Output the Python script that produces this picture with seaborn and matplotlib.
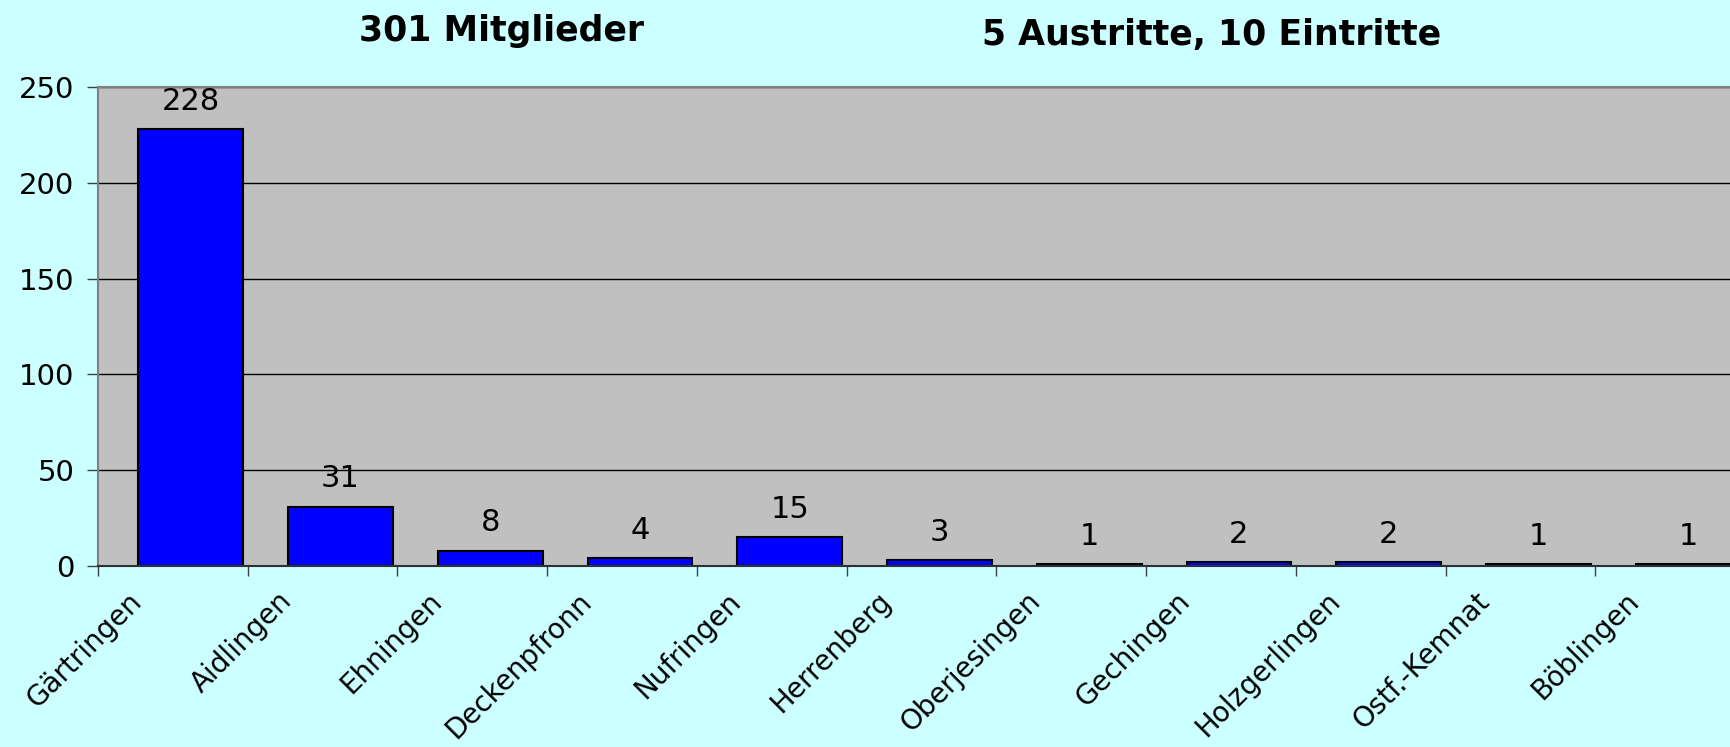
import pandas as pd
import matplotlib
matplotlib.use("Agg")
import matplotlib.pyplot as plt
import seaborn as sns

# Data
orte = ["Gärtringen", "Aidlingen", "Ehningen", "Deckenpfronn", "Nufringen", "Herrenberg",
        "Oberjesingen", "Gechingen", "Holzgerlingen", "Ostf.-Kemnat", "Böblingen"]
mitglieder = [228, 31, 8, 4, 15, 3, 1, 2, 2, 1, 1]
y_ticks = [0, 50, 100, 150, 200, 250]
titel_links = "301 Mitglieder"
titel_rechts = "5 Austritte, 10 Eintritte"


def build_frame():
    return pd.DataFrame({"Ort": orte, "Mitglieder": mitglieder})


def draw_chart(df):
    sns.set_theme(style="white")
    # DejaVu is wide enough to match the stretched look of the original text
    plt.rcParams["font.family"] = ["DejaVu Sans"]
    plt.rcParams["text.color"] = "black"
    plt.rcParams["xtick.color"] = "black"
    plt.rcParams["ytick.color"] = "black"

    fig = plt.figure(figsize=(17.31, 7.47), dpi=100, facecolor="#CCFFFF")
    # plot area runs a little past the right edge, like the cropped original
    ax = fig.add_axes([98 / 1731, 181 / 747, 1647 / 1731, 479 / 747])
    ax.set_facecolor("#C0C0C0")

    sns.barplot(data=df, x="Ort", y="Mitglieder", color="#0000FF", saturation=1,
                width=0.7, edgecolor="black", linewidth=1.5, ax=ax)

    # bars sit at the right side of each category slot
    n = len(df)
    shift = 0.12
    ax.set_xlim(-0.5 - shift, n - 0.5 - shift)
    ax.set_ylim(0, 250)
    ax.set_yticks(y_ticks)

    # labels end at the left edge of their bar, slot boundaries as small ticks
    ax.set_xticks([i - shift - 0.3 for i in range(n)])
    ax.set_xticklabels(df["Ort"], rotation=45, ha="right", rotation_mode="anchor",
                       fontsize=20)
    ax.set_xticks([i - 0.5 - shift for i in range(n + 1)], minor=True)
    ax.tick_params(axis="x", which="major", length=0, pad=15)
    ax.tick_params(axis="x", which="minor", length=7.5, width=1, color="#404040",
                   bottom=True)
    ax.tick_params(axis="y", length=8, width=1, color="#404040", labelsize=21,
                   labelcolor="black", left=True, pad=9)

    ax.set_xlabel("")
    ax.set_ylabel("")
    ax.yaxis.grid(True, color="black", linewidth=1)
    ax.set_axisbelow(True)

    for side in ["left", "bottom", "top"]:
        ax.spines[side].set_visible(True)
        ax.spines[side].set_color("#808080")
        ax.spines[side].set_linewidth(1.5)
    ax.spines["bottom"].set_color("#303030")
    ax.spines["right"].set_visible(False)

    ax.bar_label(ax.containers[0], padding=9.5, fontsize=22, color="black")

    fig.text(502 / 1731, 1 - 41 / 747, titel_links, ha="center", va="baseline",
             fontsize=25, fontweight="bold")
    fig.text(1212 / 1731, 1 - 45 / 747, titel_rechts, ha="center", va="baseline",
             fontsize=25, fontweight="bold")
    return fig


def main():
    df = build_frame()
    fig = draw_chart(df)
    fig.savefig("out.png", dpi=100, facecolor=fig.get_facecolor())


if __name__ == "__main__":
    main()
